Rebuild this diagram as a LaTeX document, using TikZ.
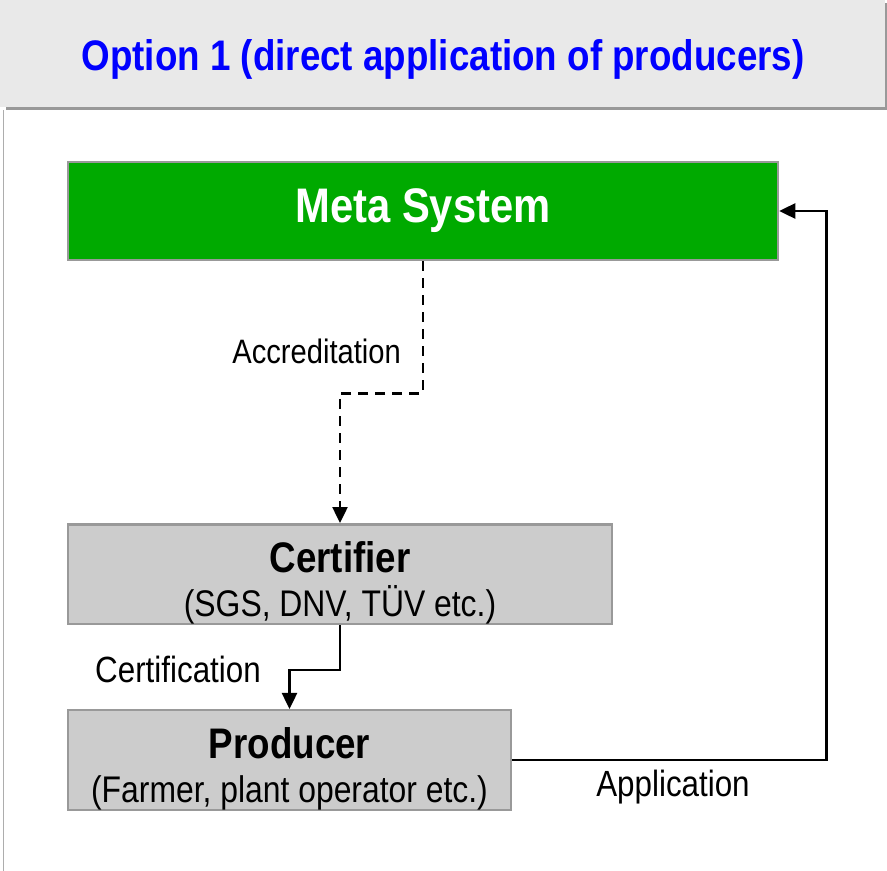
\documentclass[tikz,border=0pt]{standalone}
\usepackage{fontspec}
\setmainfont[FakeStretch=0.86]{Liberation Sans}
\usepackage{xcolor}
\usepackage{tikz}
\usetikzlibrary{arrows.meta,positioning}

\definecolor{headgray}{HTML}{E9E9E9}
\definecolor{rimgray}{HTML}{999999}
\definecolor{metagreen}{HTML}{00AA00}
\definecolor{boxgray}{HTML}{CCCCCC}
\definecolor{titleblue}{HTML}{0000FF}

\tikzset{
  party/.style={draw=rimgray,line width=2.5bp,inner sep=0pt,align=center,
                font=\fontsize{37.2}{44}\selectfont},
  flow/.style={line width=2.5bp,-{Triangle[length=16bp,width=15bp]}},
  tag/.style={inner sep=0pt,font=\fontsize{36.6}{40}\selectfont}
}
\newcommand{\boxhead}[1]{\rule{0pt}{48bp}{\fontsize{42.9}{44}\selectfont\bfseries #1}}

\begin{document}
\begin{tikzpicture}[x=1bp,y=-1bp]
        \useasboundingbox (0,0) rectangle (887,871);
        % header bar
        \fill[rimgray] (6,3) rectangle (887,110);
        \fill[headgray] (0,0) rectangle (885,107);
        \node[titleblue,font=\fontsize{42.9}{46}\selectfont\bfseries] (title) at (443,59)
             {Option 1 (direct application of producers)};
        \draw[rimgray!80,line width=1.5bp] (3.5,110) -- (3.5,871);
        % boxes
        \node[party,fill=metagreen,text=white,minimum width=710bp,minimum height=98bp,
              font=\fontsize{48.7}{52}\selectfont\bfseries] (meta) at (423,211) {Meta System};
        \node[party,fill=boxgray,minimum width=544bp,minimum height=98bp] (cert) at (340,574)
             {\boxhead{Certifier}\\ (SGS, DNV, TÜV etc.)};
        \node[party,fill=boxgray,minimum width=443bp,minimum height=98bp] (prod) at (289.5,760)
             {\boxhead{Producer}\\ (Farmer, plant operator etc.)};
        % connectors
        \draw[flow,dash pattern=on 10bp off 7bp] (meta.south) -- ++(0,132) -| (cert.north);
        \draw[flow] (cert.south) -- ++(0,45) -| (prod.north);
        \draw[flow] (prod.east) -- ++(314,0) |- (meta.east);
        \node[tag,anchor=east,font=\fontsize{34}{38}\selectfont] (accr) at (401,351) {Accreditation};
        \node[tag] (certif) at (178,669) {Certification};
        \node[tag] (appl) at (673,787) {Application};
      \end{tikzpicture}
\end{document}
